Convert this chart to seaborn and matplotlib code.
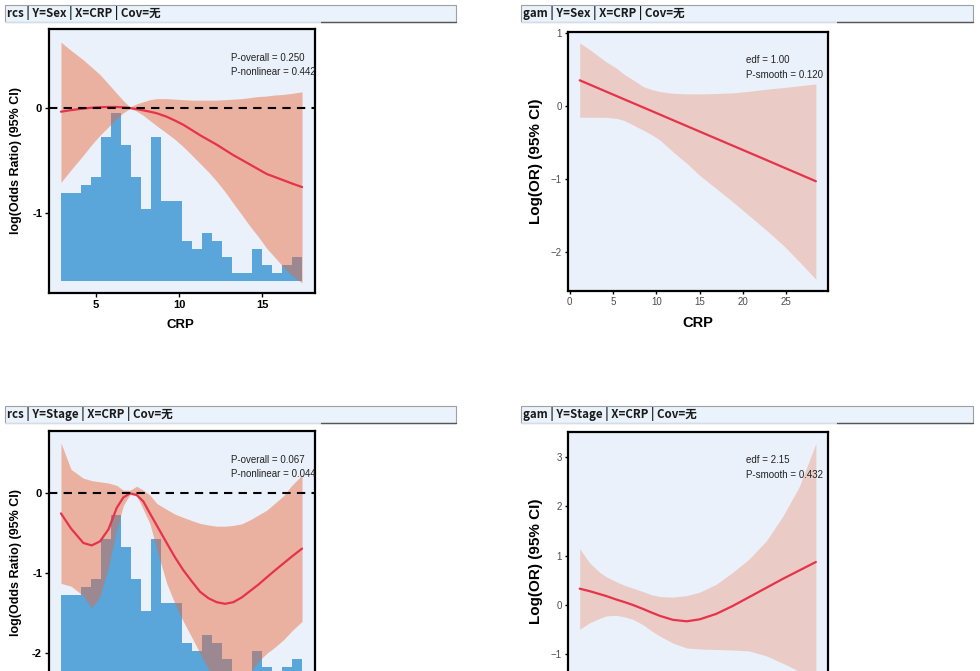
import numpy as np
import pandas as pd
import matplotlib
matplotlib.use("Agg")
import matplotlib.pyplot as plt
from matplotlib.patches import Rectangle
from matplotlib.lines import Line2D
import seaborn as sns

# ---------------- data ----------------
# rcs panels (x = CRP)
rcs_x = [2.89, 3.5, 4.24, 4.74, 5.24, 5.75, 6.25, 6.65, 7.05, 7.45, 7.85, 8.25,
         8.66, 9.26, 9.76, 10.26, 10.77, 11.27, 11.77, 12.27, 12.77, 13.27,
         13.78, 14.28, 14.78, 15.28, 15.79, 16.29, 16.79, 17.41]

sex_rcs_fit = [-0.035, -0.02, -0.005, 0.003, 0.008, 0.01, 0.01, 0.007, 0.0, -0.01,
               -0.022, -0.035, -0.05, -0.083, -0.12, -0.16, -0.21, -0.26, -0.305,
               -0.35, -0.40, -0.45, -0.495, -0.54, -0.585, -0.63, -0.66, -0.69,
               -0.72, -0.755]
sex_rcs_upper = [0.63, 0.55, 0.46, 0.39, 0.32, 0.23, 0.14, 0.07, 0.01, 0.04, 0.06,
                 0.08, 0.09, 0.09, 0.085, 0.08, 0.076, 0.075, 0.075, 0.076, 0.08,
                 0.085, 0.09, 0.10, 0.11, 0.115, 0.125, 0.13, 0.14, 0.155]
sex_rcs_lower = [-0.71, -0.59, -0.45, -0.35, -0.26, -0.18, -0.10, -0.045, -0.005,
                 -0.03, -0.07, -0.12, -0.17, -0.24, -0.30, -0.37, -0.45, -0.53,
                 -0.61, -0.70, -0.80, -0.91, -1.02, -1.13, -1.23, -1.34, -1.43,
                 -1.52, -1.60, -1.67]

stage_rcs_fit = [-0.25, -0.44, -0.62, -0.65, -0.60, -0.45, -0.18, -0.05, 0.0, -0.02,
                 -0.10, -0.25, -0.40, -0.62, -0.80, -0.96, -1.10, -1.23, -1.31,
                 -1.36, -1.38, -1.36, -1.30, -1.22, -1.14, -1.05, -0.96, -0.875,
                 -0.79, -0.69]
stage_rcs_upper = [0.63, 0.30, 0.19, 0.16, 0.145, 0.13, 0.10, 0.04, 0.04, 0.09,
                   0.04, -0.02, -0.125, -0.20, -0.26, -0.30, -0.34, -0.375, -0.395,
                   -0.41, -0.41, -0.40, -0.38, -0.33, -0.27, -0.21, -0.12, -0.03,
                   0.10, 0.23]
stage_rcs_lower = [-1.125, -1.16, -1.28, -1.43, -1.29, -0.92, -0.45, -0.15, -0.01,
                   -0.03, -0.20, -0.38, -0.70, -1.125, -1.38, -1.60, -1.80, -2.00,
                   -2.20, -2.38, -2.50, -2.50, -2.40, -2.24, -2.10, -2.00, -1.92,
                   -1.83, -1.72, -1.60]

# CRP distribution shown under the rcs curves (24 bins)
crp_lo, crp_hi = 2.89, 17.41
crp_counts = [11, 11, 12, 13, 18, 21, 17, 13, 9, 18, 10, 10, 5, 4, 6, 5, 3, 1, 1,
              4, 2, 1, 2, 3]

# gam panels (x = CRP)
gam_x = [1.15, 2.3, 3.46, 4.23, 5.38, 6.3, 7.3, 8.46, 9.4, 10.4, 11.9, 13.5, 15.0,
         16.9, 18.8, 20.7, 22.7, 24.6, 26.5, 28.4]

sex_gam_fit = [0.35, 0.292, 0.233, 0.194, 0.136, 0.089, 0.039, -0.02, -0.067,
               -0.118, -0.194, -0.275, -0.351, -0.447, -0.543, -0.639, -0.74,
               -0.837, -0.933, -1.03]
sex_gam_upper = [0.86, 0.77, 0.667, 0.60, 0.516, 0.43, 0.356, 0.265, 0.225, 0.196,
                 0.172, 0.165, 0.164, 0.17, 0.178, 0.20, 0.228, 0.25, 0.275, 0.30]
sex_gam_lower = [-0.155, -0.155, -0.155, -0.157, -0.17, -0.20, -0.26, -0.33, -0.39,
                 -0.466, -0.626, -0.785, -0.95, -1.13, -1.31, -1.50, -1.70, -1.90,
                 -2.13, -2.37]

stage_gam_fit = [0.33, 0.28, 0.22, 0.18, 0.11, 0.06, 0.0, -0.08, -0.15, -0.22,
                 -0.30, -0.33, -0.29, -0.18, -0.02, 0.16, 0.35, 0.53, 0.70, 0.87]
stage_gam_upper = [1.14, 0.85, 0.66, 0.57, 0.47, 0.40, 0.34, 0.27, 0.21, 0.17,
                   0.16, 0.19, 0.26, 0.42, 0.66, 0.93, 1.30, 1.80, 2.40, 3.27]
stage_gam_lower = [-0.49, -0.36, -0.27, -0.22, -0.21, -0.24, -0.29, -0.40, -0.52,
                   -0.63, -0.77, -0.87, -0.89, -0.90, -0.91, -0.93, -1.03, -1.18,
                   -1.34, -1.55]

headers = ["rcs | Y=Sex | X=CRP | Cov=无", "gam | Y=Sex | X=CRP | Cov=无",
           "rcs | Y=Stage | X=CRP | Cov=无", "gam | Y=Stage | X=CRP | Cov=无"]

# ---------------- style ----------------
sns.set_theme(style="white")
plt.rcParams['font.family'] = ['Liberation Sans', 'Noto Sans CJK SC', 'DejaVu Sans']

W, H = 980, 671
LINE_RED = "#E6334A"
RIBBON = "#EC6536"
HIST_BLUE = "#5AA5DA"
PANEL_BG = "#EAF1FA"

fig = plt.figure(figsize=(W / 100, H / 100), dpi=100)


def px_rect(left, top, w, h):
    return [left / W, 1 - (top + h) / H, w / W, h / H]


def header(left, top, right, bottom, img_right, text):
    rect = Rectangle((left / W, 1 - bottom / H), (right - left) / W, (bottom - top) / H,
                     transform=fig.transFigure, facecolor="#EAF2FC",
                     edgecolor="#A0A0A0", linewidth=0.8)
    fig.add_artist(rect)
    yb = 1 - bottom / H
    fig.add_artist(Line2D([left / W, img_right / W], [yb, yb], transform=fig.transFigure,
                          color="#D5DEE8", linewidth=1.0))
    fig.add_artist(Line2D([img_right / W, right / W], [yb, yb], transform=fig.transFigure,
                          color="#555555", linewidth=1.0))
    fig.text((left + 2) / W, 1 - (top + bottom) / 2 / H, text, ha="left", va="center",
             fontsize=8.3, fontweight="bold", color="#1A1A1A",
             family=['Noto Sans CJK SC', 'DejaVu Sans'])


def style_axes(ax):
    ax.set_facecolor(PANEL_BG)
    for s in ax.spines.values():
        s.set_visible(True)
        s.set_color("black")
        s.set_linewidth(1.6)


def rcs_panel(rect, fit, upper, lower, ylim, yticks, p_overall, p_nonlin, show_x=True):
    ax = fig.add_axes(rect)
    style_axes(ax)
    ylo, yhi = ylim
    span = yhi - ylo
    base = ylo + 0.045 * span
    unit = 0.0303 * span
    edges = np.linspace(crp_lo, crp_hi, len(crp_counts) + 1)
    ax.bar(edges[:-1], np.array(crp_counts) * unit, width=np.diff(edges), bottom=base,
           align="edge", color=HIST_BLUE, linewidth=0, zorder=1)
    ax.fill_between(rcs_x, lower, upper, color=RIBBON, alpha=0.45, linewidth=0, zorder=2)
    df = pd.DataFrame({"CRP": rcs_x, "fit": fit})
    sns.lineplot(data=df, x="CRP", y="fit", ax=ax, color=LINE_RED, linewidth=1.6,
                 zorder=3)
    ax.axhline(0, color="black", linestyle=(0, (4, 3)), linewidth=1.5, zorder=4)
    ax.set_xlim(2.17, 18.19)
    ax.set_ylim(ylo, yhi)
    ax.set_xticks([5, 10, 15])
    ax.set_yticks(yticks)
    ax.set_yticklabels([f"{t:g}" for t in yticks])
    ax.tick_params(axis="both", length=3, width=1, color="black", labelsize=8,
                   pad=2, bottom=True, left=True)
    for lab in ax.get_xticklabels() + ax.get_yticklabels():
        lab.set_fontweight("bold")
        lab.set_color("black")
    ax.set_ylabel("log(Odds Ratio) (95% CI)", fontsize=9, fontweight="bold",
                  color="black")
    ax.yaxis.set_label_coords(-0.10, 0.5)
    if show_x:
        ax.set_xlabel("CRP", fontsize=9.5, fontweight="bold", color="black")
        ax.xaxis.set_label_coords(0.496, -0.097)
    else:
        ax.set_xlabel("")
        ax.tick_params(axis="x", labelbottom=False)
    ax.text(0.684, 0.89, f"P-overall = {p_overall}", transform=ax.transAxes,
            fontsize=7, va="center", ha="left", color="#222222", clip_on=True, zorder=5)
    ax.text(0.684, 0.837, f"P-nonlinear = {p_nonlin}", transform=ax.transAxes,
            fontsize=7, va="center", ha="left", color="#222222", clip_on=True, zorder=5)
    return ax


def gam_panel(rect, fit, upper, lower, ylim, yticks, edf, p_smooth, show_x=True):
    ax = fig.add_axes(rect)
    style_axes(ax)
    ax.fill_between(gam_x, lower, upper, color=RIBBON, alpha=0.265, linewidth=0,
                    zorder=2)
    df = pd.DataFrame({"CRP": gam_x, "fit": fit})
    sns.lineplot(data=df, x="CRP", y="fit", ax=ax, color=LINE_RED, linewidth=1.6,
                 zorder=3)
    ax.set_xlim(-0.2, 29.8)
    ax.set_ylim(*ylim)
    ax.set_xticks([0, 5, 10, 15, 20, 25])
    ax.set_yticks(yticks)
    ax.tick_params(axis="both", length=2.5, width=1, color="black", labelsize=7,
                   labelcolor="#4D4D4D", pad=2, bottom=True, left=True)
    ax.set_ylabel("Log(OR) (95% CI)", fontsize=11, fontweight="bold", color="black")
    ax.yaxis.set_label_coords(-0.096, 0.5)
    if show_x:
        ax.set_xlabel("CRP", fontsize=10.5, fontweight="bold", color="black")
        ax.xaxis.set_label_coords(0.499, -0.097)
    else:
        ax.set_xlabel("")
        ax.tick_params(axis="x", labelbottom=False)
    ax.text(0.683, 0.892, f"edf = {edf}", transform=ax.transAxes, fontsize=7,
            va="center", ha="left", color="#222222", clip_on=True, zorder=5)
    ax.text(0.683, 0.834, f"P-smooth = {p_smooth}", transform=ax.transAxes,
            fontsize=7, va="center", ha="left", color="#222222", clip_on=True, zorder=5)
    return ax


# headers
header(5, 5, 456, 22, 321, headers[0])
header(521, 5, 973, 22, 837, headers[1])
header(5, 406, 456, 422.5, 321, headers[2])
header(521, 406, 973, 422.5, 837, headers[3])

rcs_panel(px_rect(49, 29, 266, 264), sex_rcs_fit, sex_rcs_upper, sex_rcs_lower,
          (-1.767, 0.755), [0, -1], "0.250", "0.442")
gam_panel(px_rect(568, 32, 260, 259), sex_gam_fit, sex_gam_upper, sex_gam_lower,
          (-2.53, 1.01), [1, 0, -1, -2], "1.00", "0.120")
rcs_panel(px_rect(49, 431, 266, 264), stage_rcs_fit, stage_rcs_upper, stage_rcs_lower,
          (-2.52, 0.78), [0, -1, -2], "0.067", "0.044", show_x=False)
gam_panel(px_rect(568, 432, 260, 259), stage_gam_fit, stage_gam_upper, stage_gam_lower,
          (-1.74, 3.5), [3, 2, 1, 0, -1], "2.15", "0.432", show_x=False)

fig.savefig("out.png", dpi=100, facecolor="white")
